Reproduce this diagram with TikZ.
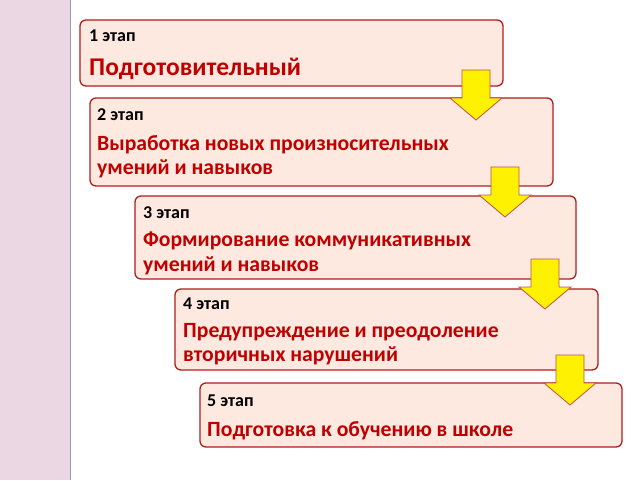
\documentclass[tikz,border=0pt]{standalone}
\usepackage{fontspec}
\setmainfont{Carlito}
\definecolor{stripe}{HTML}{EBD6E4}
\definecolor{boxfill}{HTML}{FDE9DF}
\definecolor{boxline}{HTML}{B01E1E}
\definecolor{titlered}{HTML}{C00000}
\definecolor{arrowline}{HTML}{C0504D}
\begin{document}
\begin{tikzpicture}[x=1pt,y=-1pt,
  stagebox/.style={draw=boxline,line width=1.3pt,fill=boxfill,rounded corners=6pt},
  stagelbl/.style={anchor=west,inner sep=0pt,font=\bfseries\fontsize{18}{20}\selectfont,text=black},
  stagetxt/.style={anchor=north west,inner sep=0pt,align=left,font=\bfseries\fontsize{21.7}{24.5}\selectfont,text=titlered},
  downarrow/.style={draw=arrowline,line width=0.8pt,fill=yellow}]
\useasboundingbox (0,0) rectangle (640,480);
\fill[white] (0,0) rectangle (640,480);
\fill[stripe] (0,0) rectangle (70,480);
\draw[stripe!70!black,line width=0.8pt] (70,0) -- (70,480);
% boxes
\draw[stagebox] (80,20) rectangle (503,86);
\draw[stagebox] (90,98) rectangle (553,186);
\draw[stagebox] (135,196) rectangle (576,279);
\draw[stagebox] (175,289) rectangle (598,370);
\draw[stagebox] (200,383) rectangle (622,447);
% texts
\node[stagelbl] (l1) at (89,36) {1 этап};
\node[stagetxt,font=\bfseries\fontsize{25.5}{28}\selectfont] (t1) at (89,58) {Подготовительный};
\node[stagelbl] (l2) at (97,115) {2 этап};
\node[stagetxt] (t2) at (97,135) {Выработка новых произносительных\\умений и навыков};
\node[stagelbl] (l3) at (143,213) {3 этап};
\node[stagetxt] (t3) at (143,232) {Формирование коммуникативных\\умений и навыков};
\node[stagelbl] (l4) at (183,304) {4 этап};
\node[stagetxt] (t4) at (183,323) {Предупреждение и преодоление\\вторичных нарушений};
\node[stagelbl] (l5) at (207,401) {5 этап};
\node[stagetxt] (t5) at (207,421) {Подготовка к обучению в школе};
% arrows
\foreach \cx/\ty in {476/70, 505/167, 545/259, 570/355}{
  \draw[downarrow] (\cx-14,\ty) -- (\cx+14,\ty) -- (\cx+14,\ty+28) -- (\cx+26,\ty+28)
    -- (\cx,\ty+50) -- (\cx-26,\ty+28) -- (\cx-14,\ty+28) -- cycle;
}
\end{tikzpicture}
\end{document}
